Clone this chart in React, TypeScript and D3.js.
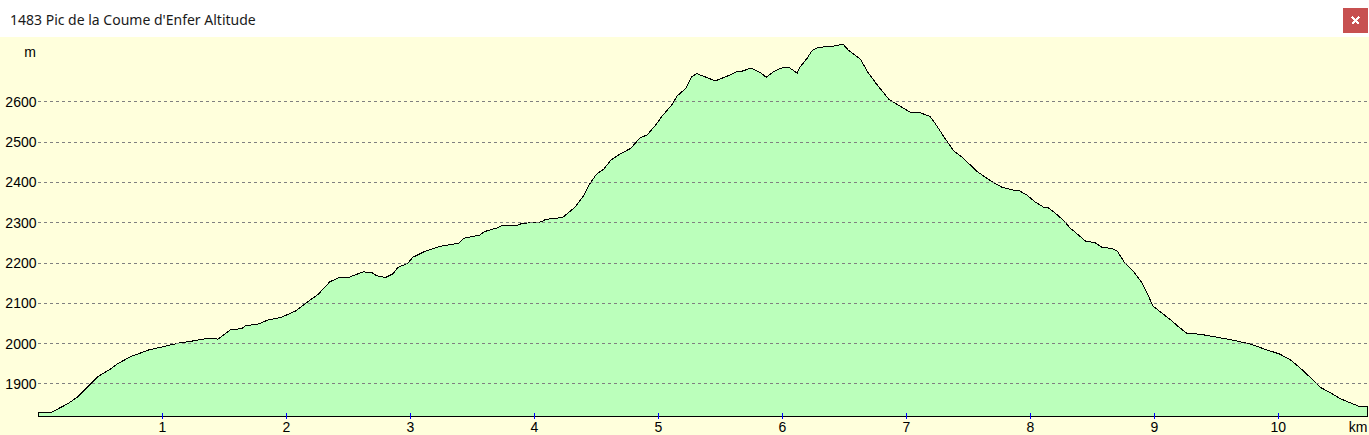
import * as d3 from 'd3';

// Profile: distance (km) and altitude (m)
const distanceKm = [
  0, 0.11, 0.16, 0.24, 0.32, 0.4, 0.48, 0.58, 0.645, 0.75, 0.89, 1.02, 1.13, 1.26, 1.37, 1.45,
  1.55, 1.64, 1.67, 1.77, 1.85, 1.96, 2.07, 2.18, 2.26, 2.35, 2.42, 2.51, 2.62, 2.69, 2.73, 2.8,
  2.86, 2.9, 2.98, 3.02, 3.105, 3.17, 3.24, 3.39, 3.43, 3.56, 3.6, 3.7, 3.74, 3.86, 3.9, 4.06,
  4.09, 4.23, 4.33, 4.4, 4.44, 4.5, 4.56, 4.62, 4.68, 4.78, 4.85, 4.91, 4.97, 5.03, 5.11, 5.15,
  5.22, 5.27, 5.31, 5.36, 5.46, 5.55, 5.63, 5.69, 5.74, 5.78, 5.82, 5.87, 5.93, 6.01, 6.06, 6.09,
  6.12, 6.14, 6.2, 6.24, 6.29, 6.41, 6.49, 6.53, 6.63, 6.69, 6.76, 6.86, 6.95, 7.04, 7.1, 7.19,
  7.24, 7.31, 7.38, 7.46, 7.57, 7.69, 7.77, 7.86, 7.9, 7.97, 8.04, 8.11, 8.145, 8.2, 8.27, 8.32,
  8.39, 8.45, 8.52, 8.576, 8.657, 8.7, 8.76, 8.84, 8.9, 8.94, 8.99, 9.06, 9.13, 9.19, 9.26, 9.37,
  9.5, 9.64, 9.77, 9.91, 10.01, 10.1, 10.2, 10.28, 10.34, 10.42, 10.5, 10.61, 10.66, 10.72,
];
const altitudeM = [
  1829, 1829, 1837, 1850, 1867, 1892, 1917, 1935, 1950, 1967, 1983, 1992, 2000, 2006, 2012, 2010,
  2033, 2036, 2043, 2047, 2057, 2064, 2079, 2104, 2122, 2152, 2162, 2164, 2177, 2175, 2167, 2163,
  2172, 2188, 2198, 2213, 2226, 2233, 2240, 2248, 2260, 2268, 2277, 2286, 2292, 2292, 2297, 2301,
  2307, 2312, 2338, 2367, 2392, 2419, 2432, 2455, 2467, 2484, 2509, 2517, 2538, 2563, 2592, 2613,
  2632, 2661, 2669, 2663, 2651, 2662, 2673, 2676, 2683, 2678, 2672, 2660, 2674, 2685, 2683, 2677,
  2670, 2684, 2707, 2726, 2734, 2737, 2742, 2728, 2705, 2672, 2643, 2605, 2588, 2572, 2573, 2563,
  2542, 2509, 2478, 2459, 2426, 2401, 2387, 2380, 2380, 2368, 2350, 2337, 2336, 2323, 2304, 2286,
  2268, 2252, 2250, 2238, 2235, 2229, 2200, 2175, 2150, 2125, 2092, 2075, 2058, 2042, 2025, 2022,
  2015, 2007, 1998, 1983, 1973, 1958, 1932, 1908, 1890, 1877, 1862, 1848, 1842, 1842,
];

const yTicks = [1900, 2000, 2100, 2200, 2300, 2400, 2500, 2600];
const xTicks = [1, 2, 3, 4, 5, 6, 7, 8, 9, 10];
const title = "1483 Pic de la Coume d'Enfer Altitude";

const W = 1369;
const H = 435;
const headerH = 37;
const plotLeft = 38.3;
const plotBottom = 416;

export default function App() {
  const x = d3.scaleLinear().domain([0, 10]).range([plotLeft, 1278.3]);
  const y = d3.scaleLinear().domain([1900, 2600]).range([383.4, 101.4]);

  const points = distanceKm.map((d, i) => ({ d, a: altitudeM[i] }));

  const area = d3.area<{ d: number; a: number }>()
    .x(p => x(p.d))
    .y0(plotBottom)
    .y1(p => y(p.a));

  const axisFont = '"Liberation Sans", Arial, sans-serif';

  return (
    <svg
      width={W}
      height={H}
      style={{ position: 'fixed', left: 0, top: 0, display: 'block' }}
    >
      {/* title bar */}
      <rect x={0} y={0} width={W} height={headerH} fill="#ffffff" />
      <text x={10} y={25} fontFamily='"Noto Sans", "Open Sans", sans-serif' fontSize={14} fill="#1a1a1a">
        {title}
      </text>
      <rect x={1343} y={8} width={25} height={25} fill="#c75050" />
      <g stroke="#ffffff" strokeWidth={2} shapeRendering="crispEdges">
        <line x1={1352} y1={17} x2={1359} y2={24} />
        <line x1={1359} y1={17} x2={1352} y2={24} />
      </g>

      {/* plot background */}
      <rect x={0} y={headerH} width={W} height={H - headerH} fill="#ffffdc" />

      {/* profile */}
      <path
        d={area(points) ?? ''}
        fill="#bbffbb"
        stroke="#000000"
        strokeWidth={1}
        strokeLinejoin="miter"
        shapeRendering="crispEdges"
      />

      {/* grid */}
      {yTicks.map(t => (
        <line
          key={t}
          x1={plotLeft}
          x2={W}
          y1={Math.round(y(t)) + 0.5}
          y2={Math.round(y(t)) + 0.5}
          stroke="#808080"
          strokeDasharray="3,3"
          shapeRendering="crispEdges"
        />
      ))}

      {/* y labels */}
      <g fontFamily={axisFont} fontSize={14} fill="#000000" textAnchor="end">
        <text x={36} y={57}>m</text>
        {yTicks.map(t => (
          <text key={t} x={36.5} y={y(t) + 5.5}>{t}</text>
        ))}
      </g>

      {/* x ticks and labels */}
      <g>
        {xTicks.map(t => (
          <line
            key={t}
            x1={Math.round(x(t)) + 0.5}
            x2={Math.round(x(t)) + 0.5}
            y1={413}
            y2={419}
            stroke="#0000ff"
            shapeRendering="crispEdges"
          />
        ))}
      </g>
      <g fontFamily={axisFont} fontSize={14} fill="#000000" textAnchor="middle">
        {xTicks.map(t => (
          <text key={t} x={x(t)} y={431.5}>{t}</text>
        ))}
        <text x={1367.5} y={431.5} textAnchor="end">km</text>
      </g>
    </svg>
  );
}
